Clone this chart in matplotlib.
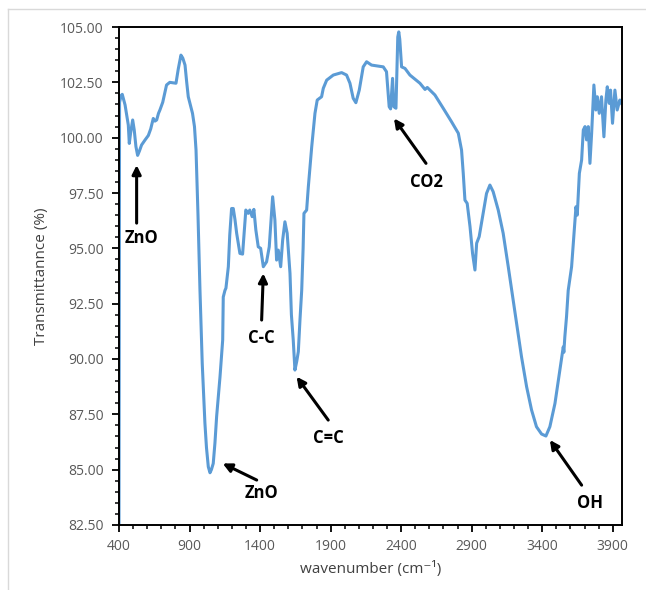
#!/usr/bin/env python
# -*- coding: utf-8 -*-
"""
FTIR spectrum (transmittance vs wavenumber) with band labels
"""

import matplotlib
matplotlib.use('Agg')
import matplotlib.pyplot as plt
from matplotlib.lines import Line2D
from matplotlib.ticker import MultipleLocator, FormatStrFormatter

plt.rcParams['font.family'] = ['Open Sans', 'DejaVu Sans']

# spectrum
wavenumber = [400, 404, 415, 423, 443, 466, 473, 482, 497, 508, 520, 532, 545, 560, 585,
              608, 625, 643, 655, 667, 680, 690, 710, 737, 760, 784, 804, 820, 839, 852,
              868, 880, 891, 921, 935, 946, 960, 974, 990, 1009, 1020, 1033, 1045, 1055,
              1068, 1080, 1092, 1116, 1135, 1139, 1151, 1158, 1175, 1185, 1198, 1210, 1222,
              1234, 1257, 1276, 1288, 1299, 1316, 1327, 1344, 1356, 1370, 1387, 1404, 1423,
              1446, 1465, 1478, 1489, 1505, 1517, 1529, 1546, 1560, 1576, 1592, 1612, 1622,
              1635, 1647, 1660, 1671, 1683, 1695, 1705, 1711, 1730, 1742, 1766, 1789, 1805,
              1836, 1848, 1872, 1919, 1978, 2013, 2037, 2060, 2079, 2103, 2131, 2155, 2190,
              2273, 2296, 2315, 2325, 2339, 2348, 2363, 2376, 2383, 2390, 2403, 2427, 2462,
              2533, 2569, 2585, 2639, 2698, 2757, 2805, 2828, 2840, 2852, 2868, 2888, 2906,
              2923, 2935, 2953, 2981, 3005, 3029, 3052, 3088, 3123, 3159, 3194, 3218, 3253,
              3289, 3324, 3359, 3395, 3426, 3454, 3490, 3525, 3549, 3553, 3560, 3572, 3584,
              3608, 3625, 3639, 3648, 3663, 3679, 3691, 3703, 3714, 3726, 3738, 3750, 3766,
              3780, 3790, 3804, 3820, 3837, 3851, 3861, 3875, 3884, 3898, 3915, 3931, 3950,
              3962]
transmittance = [82.5, 101.6, 101.9, 101.96, 101.48, 100.57, 99.74, 100.2, 100.8, 100.35,
                 99.6, 99.2, 99.4, 99.67, 99.9, 100.1, 100.4, 100.87, 100.75, 100.8, 101.1,
                 101.25, 101.6, 102.38, 102.5, 102.48, 102.46, 103.1, 103.73, 103.6, 103.28,
                 102.5, 101.85, 101.1, 100.5, 99.44, 96.5, 93.1, 89.8, 87.1, 86.0, 85.13,
                 84.86, 85.0, 85.28, 86.2, 87.4, 89.2, 90.86, 92.8, 93.1, 93.2, 94.17, 95.6,
                 96.8, 96.8, 96.3, 95.68, 94.77, 94.74, 95.8, 96.73, 96.58, 96.73, 96.43,
                 96.76, 95.83, 95.07, 95.0, 94.17, 94.39, 95.07, 96.3, 97.33, 96.28, 94.47,
                 94.92, 94.17, 95.37, 96.2, 95.68, 93.87, 92.0, 90.86, 89.5, 89.9, 90.33,
                 91.8, 93.1, 95.0, 96.58, 96.73, 97.78, 99.59, 101.1, 101.7, 101.85, 102.23,
                 102.6, 102.83, 102.94, 102.83, 102.46, 101.78, 101.58, 102.15, 103.2, 103.43,
                 103.28, 103.2, 102.98, 101.4, 101.3, 102.68, 101.4, 101.33, 104.55, 104.78,
                 104.45, 103.2, 103.13, 102.83, 102.46, 102.18, 102.27, 101.93, 101.33, 100.72,
                 100.2, 99.44, 98.39, 97.18, 97.03, 95.98, 94.77, 94.02, 95.23, 95.53, 96.58,
                 97.48, 97.86, 97.56, 96.73, 95.68, 94.17, 92.66, 91.61, 90.1, 88.75, 87.7,
                 86.94, 86.61, 86.52, 86.94, 87.99, 89.5, 90.55, 90.3, 91.0, 91.91, 93.1,
                 94.17, 95.68, 96.88, 96.5, 98.39, 98.99, 100.35, 100.5, 99.9, 100.5, 98.84,
                 100.2, 102.38, 101.25, 101.85, 101.1, 101.85, 100.04, 101.7, 102.3, 101.55,
                 102.15, 100.65, 102.15, 101.25, 101.7, 101.55]

x_ticks = [400, 900, 1400, 1900, 2400, 2900, 3400, 3900]

# band labels: (text, arrow tip x, tip y, arrow tail x, tail y, text x, text y)
band_labels = ['ZnO', 'C-C', 'ZnO', 'C=C', 'CO2', 'OH']
tip_x = [525, 1423, 1135, 1659, 2349, 3454]
tip_y = [98.76, 93.87, 85.28, 89.2, 100.87, 86.34]
tail_x = [525, 1411, 1376, 1883, 2576, 3679]
tail_y = [96.14, 91.76, 84.53, 87.24, 98.84, 84.3]
text_x = [561, 1411, 1411, 1881, 2581, 3738]
text_y = [95.47, 90.93, 83.93, 86.43, 98.01, 83.5]


def main():
    fig = plt.figure(figsize=(6.46, 5.90), dpi=100)
    ax = fig.add_axes([0.1842, 0.1102, 0.7786, 0.8440])

    # 光谱曲线
    ax.plot(wavenumber, transmittance, color='#5B9BD5', lw=2.2,
            solid_joinstyle='round')

    ax.set_xlim(400, 3965)
    ax.set_ylim(82.5, 105)
    ax.set_xticks(x_ticks)
    ax.xaxis.set_minor_locator(MultipleLocator(100))
    ax.yaxis.set_major_locator(MultipleLocator(2.5))
    ax.yaxis.set_minor_locator(MultipleLocator(0.5))
    ax.yaxis.set_major_formatter(FormatStrFormatter('%.2f'))

    ax.tick_params(which='major', direction='out', length=5, width=1.3,
                   labelsize=10, labelcolor='#595959', pad=5)
    ax.tick_params(which='minor', direction='out', length=3, width=1.1)
    ax.tick_params(axis='y', pad=6)
    for sp in ax.spines.values():
        sp.set_linewidth(1.4)
        sp.set_color('black')

    ax.set_xlabel('wavenumber (cm⁻¹)', fontsize=11, color='#404040', labelpad=5)
    ax.set_ylabel('Transmittannce (%)', fontsize=11, color='#404040', labelpad=8)

    # 标注箭头和文字
    for i, lab in enumerate(band_labels):
        ax.annotate('', xy=(tip_x[i], tip_y[i]), xytext=(tail_x[i], tail_y[i]),
                    arrowprops=dict(arrowstyle='-|>', color='black', lw=2.2,
                                    mutation_scale=13, shrinkA=0, shrinkB=0))
        ax.text(text_x[i], text_y[i], lab, ha='center', va='center',
                fontsize=12, fontweight='bold', color='black')

    # 外框（左、上灰线）
    fig.add_artist(Line2D([8 / 646, 8 / 646], [0, 1 - 9 / 590],
                          transform=fig.transFigure, color='#d9d9d9', lw=1))
    fig.add_artist(Line2D([8 / 646, 1], [1 - 9 / 590, 1 - 9 / 590],
                          transform=fig.transFigure, color='#d9d9d9', lw=1))

    fig.savefig('out.png', dpi=100)
    plt.close(fig)


if __name__ == '__main__':
    main()
